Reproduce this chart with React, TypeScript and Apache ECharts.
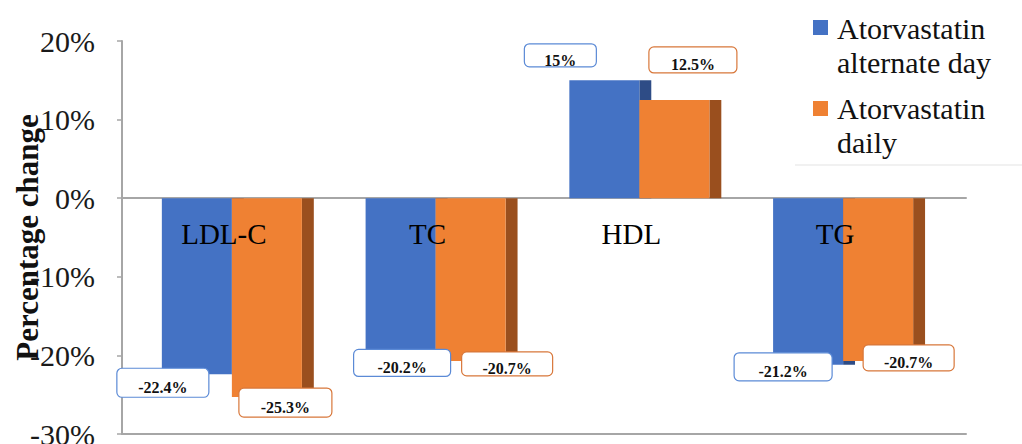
import React, { useEffect, useRef } from "react";
import * as echarts from "echarts";

const categories = ["LDL-C", "TC", "HDL", "TG"];
const alternateDay = [-22.4, -20.2, 15, -21.2];
const daily = [-25.3, -20.7, 12.5, -20.7];
const seriesNames = ["Atorvastatin alternate day", "Atorvastatin daily"];
const legendTexts = ["Atorvastatin\nalternate day", "Atorvastatin\ndaily"];
const yMin = -30;
const yMax = 20;
const yInterval = 10;
const axisTitle = "Percentage change";

// label box layout: [dx, dy, width, height] relative to bar end centre
const blueLabelLayout = [
  [-34, 8.5, 92, 29],
  [1.5, 6, 97, 27],
  [-44, -25, 72, 23],
  [-25, 2, 98, 28],
];
const orangeLabelLayout = [
  [18.5, 5.5, 93, 29],
  [36.5, 3, 91, 24],
  [18.5, -40, 88, 26],
  [30.5, -3, 91, 26],
];

const SERIF = '"Liberation Serif", "Times New Roman", serif';
const BLUE = "#4472C4";
const BLUE_SIDE = "#2E4C86";
const BLUE_BORDER = "#5B8AD6";
const ORANGE = "#EF8133";
const ORANGE_SIDE = "#9A4F1E";
const ORANGE_BORDER = "#D8773A";
const AXIS_GRAY = "#A6A6A6";

const GRID_TOP = 41;
const GRID_BOTTOM = 10;
const PLOT_H = 444 - GRID_TOP - GRID_BOTTOM;
const ZERO_OFFSET = -(PLOT_H * (0 - yMin)) / (yMax - yMin);

function makeRender(idx: number, front: string, sideColor: string, border: string, layout: number[][]) {
  return (params: any, api: any) => {
    const cat = api.value(0);
    const v = api.value(1);
    const band = api.size([1, 0])[0];
    const bw = band * 0.3437;
    const side = bw * 0.17;
    const c = api.coord([cat, 0]);
    const e = api.coord([cat, v]);
    const x0 = idx === 0 ? c[0] - bw : c[0];
    const top = Math.min(c[1], e[1]);
    const h = Math.abs(e[1] - c[1]);
    const lay = layout[params.dataIndex];
    const cx = x0 + bw / 2 + lay[0];
    const cy = e[1] + lay[1];
    const w = lay[2];
    const hh = lay[3];
    return {
      type: "group",
      children: [
        { type: "rect", shape: { x: x0 + bw, y: top, width: side, height: h }, style: { fill: sideColor } },
        { type: "rect", shape: { x: x0, y: top, width: bw, height: h }, style: { fill: front } },
        {
          type: "rect",
          z2: 100,
          shape: { x: cx - w / 2, y: cy - hh / 2, width: w, height: hh, r: 5 },
          style: { fill: "#ffffff", stroke: border, lineWidth: 1.2 },
        },
        {
          type: "text",
          z2: 101,
          style: {
            x: cx,
            y: cy + 5,
            text: v + "%",
            align: "center",
            verticalAlign: "middle",
            font: "bold 16px " + SERIF,
            fill: "#111111",
          },
        },
      ],
    };
  };
}

export default function App() {
  const ref = useRef<HTMLDivElement>(null);
  useEffect(() => {
    if (!ref.current) return;
    const chart = echarts.init(ref.current, null, { renderer: "svg" });
    const option: any = {
      animation: false,
      backgroundColor: "#ffffff",
      grid: [
        { left: 122, right: 56, top: GRID_TOP, bottom: GRID_BOTTOM, containLabel: false, outerBoundsMode: "none" },
        { left: 130, right: 77, top: GRID_TOP, bottom: GRID_BOTTOM, containLabel: false, outerBoundsMode: "none" },
      ],
      xAxis: [
        {
          gridIndex: 0,
          type: "category",
          data: categories,
          axisLine: { onZero: false, lineStyle: { color: AXIS_GRAY, width: 2 } },
          axisTick: { show: false },
          axisLabel: { show: false },
        },
        {
          gridIndex: 0,
          type: "category",
          data: categories,
          position: "bottom",
          offset: ZERO_OFFSET,
          axisLine: { onZero: false, lineStyle: { color: AXIS_GRAY, width: 2 } },
          axisTick: { show: false },
          axisLabel: { show: false },
        },
        {
          gridIndex: 1,
          type: "category",
          data: categories,
          z: 10,
          position: "bottom",
          offset: ZERO_OFFSET,
          axisLine: { show: false, onZero: false },
          axisTick: { show: false },
          axisLabel: {
            fontFamily: SERIF,
            fontSize: 29,
            color: "#000000",
            margin: 21,
            padding: [0, 16, 0, 0],
          },
        },
      ],
      yAxis: [
        {
          gridIndex: 0,
          type: "value",
          min: yMin,
          max: yMax,
          interval: yInterval,
          axisLine: { show: true, lineStyle: { color: AXIS_GRAY, width: 2 } },
          axisTick: { show: true, length: 5, lineStyle: { color: AXIS_GRAY, width: 1.5 } },
          splitLine: { show: false },
          axisLabel: {
            formatter: (v: number) => v + "%",
            fontFamily: SERIF,
            fontSize: 30,
            color: "#1a1a1a",
            margin: 27,
          },
          name: axisTitle,
          nameLocation: "middle",
          nameGap: 80,
          nameMoveOverlap: false,
          nameTextStyle: {
            fontFamily: SERIF,
            fontWeight: "bold",
            fontSize: 31,
            color: "#111111",
            backgroundColor: "#ffffff",
            lineHeight: 29,
          },
        },
        {
          gridIndex: 1,
          type: "value",
          min: yMin,
          max: yMax,
          interval: yInterval,
          show: true,
          axisLine: { show: false },
          axisTick: { show: false },
          axisLabel: { show: false },
          splitLine: { show: false },
        },
      ],
      series: [
        {
          name: seriesNames[0],
          type: "custom",
          xAxisIndex: 2,
          yAxisIndex: 1,
          renderItem: makeRender(0, BLUE, BLUE_SIDE, BLUE_BORDER, blueLabelLayout),
          data: alternateDay.map((v, i) => [i, v]),
        },
        {
          name: seriesNames[1],
          type: "custom",
          xAxisIndex: 2,
          yAxisIndex: 1,
          renderItem: makeRender(1, ORANGE, ORANGE_SIDE, ORANGE_BORDER, orangeLabelLayout),
          data: daily.map((v, i) => [i, v]),
        },
      ],
      graphic: [
        { type: "rect", left: 795, top: 0, shape: { width: 227, height: 165 }, style: { fill: "#ffffff" }, z: 20 },
        { type: "line", shape: { x1: 795, y1: 165, x2: 1022, y2: 165 }, style: { stroke: "#f1f1f1", lineWidth: 2 }, z: 20 },
        { type: "rect", shape: { x: 813, y: 20, width: 15, height: 15 }, style: { fill: BLUE }, z: 21 },
        {
          type: "text",
          x: 837,
          y: 11,
          z: 21,
          style: { text: legendTexts[0], font: "30px " + SERIF, fill: "#111111", lineHeight: 34 },
        },
        { type: "rect", shape: { x: 813, y: 101, width: 15, height: 15 }, style: { fill: ORANGE }, z: 21 },
        {
          type: "text",
          x: 837,
          y: 91,
          z: 21,
          style: { text: legendTexts[1], font: "30px " + SERIF, fill: "#111111", lineHeight: 34 },
        },
      ],
    };
    chart.setOption(option);
    return () => chart.dispose();
  }, []);
  return (
    <div
      ref={ref}
      style={{ position: "fixed", left: 0, top: 0, width: 1022, height: 444, background: "#fff" }}
    />
  );
}
